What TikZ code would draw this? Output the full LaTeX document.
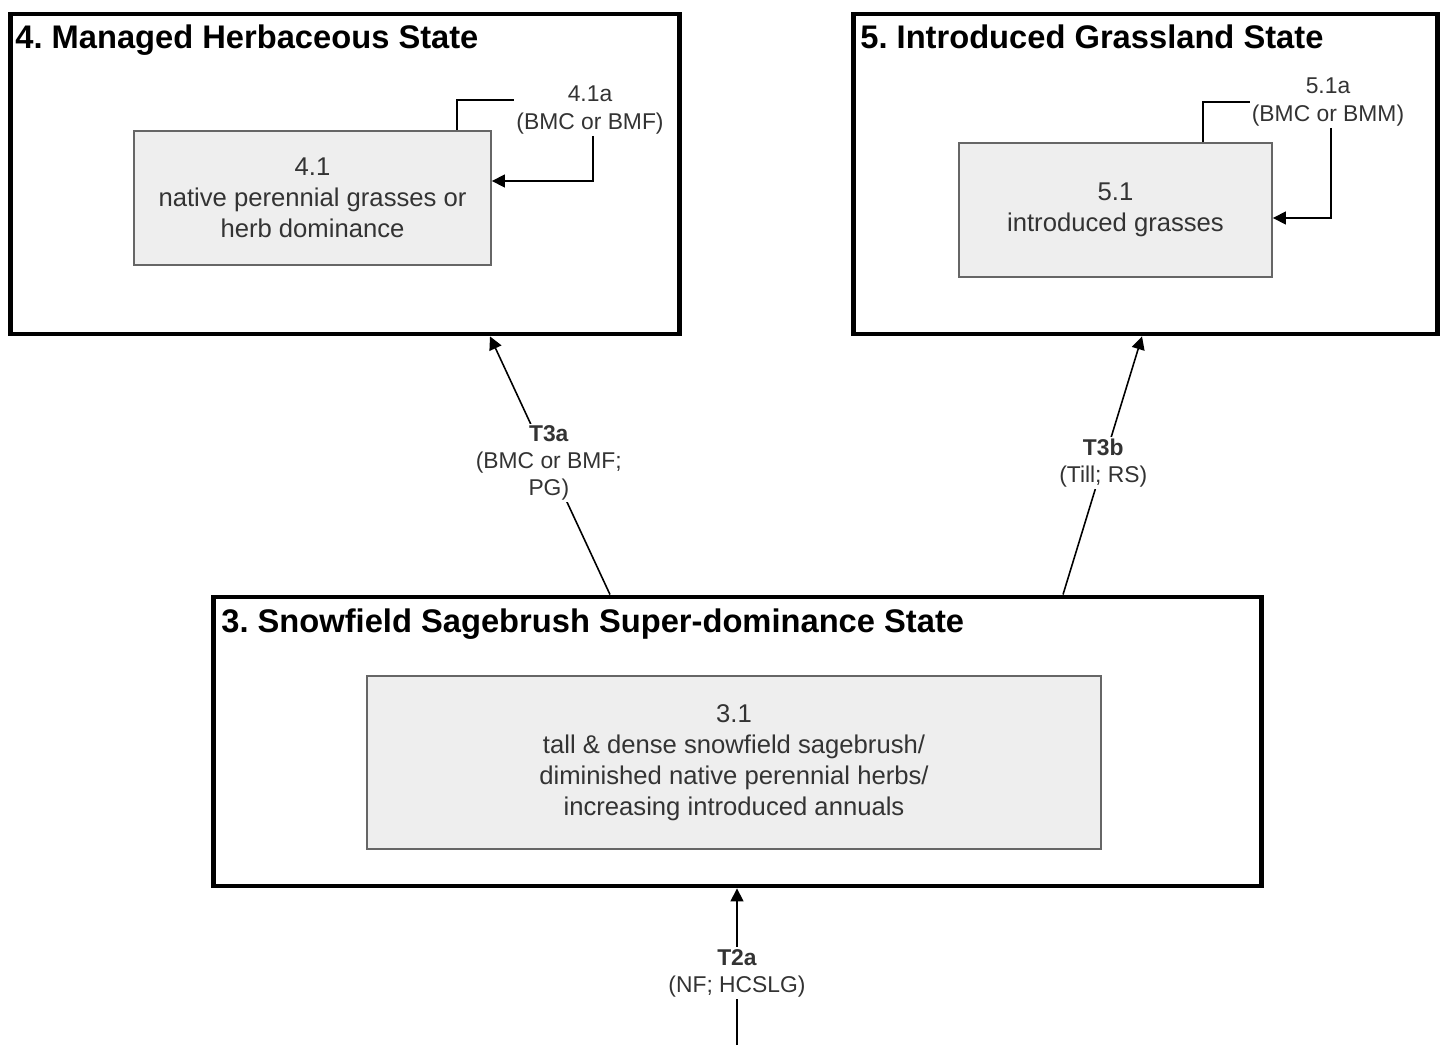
\documentclass[tikz,border=0pt]{standalone}
\usepackage{fontspec}
\setmainfont{Liberation Sans}
\usetikzlibrary{arrows.meta}
\definecolor{boxgray}{HTML}{EEEEEE}
\definecolor{textgray}{HTML}{333333}
\frenchspacing
\begin{document}
\begin{tikzpicture}[x=0.02cm, y=-0.02cm,
  state/.style={draw, line width=2.8pt, inner sep=0pt},
  title/.style={font=\fontsize{18.6}{21}\selectfont\bfseries, inner sep=0pt, anchor=base west},
  community/.style={draw=black!60, line width=1.1pt, fill=boxgray, text=textgray, align=center, font=\fontsize{14.6}{17.6}\selectfont},
  pathway/.style={text=textgray, align=center, inner sep=1pt, font=\fontsize{13}{15.4}\selectfont},
  trans/.style={pathway, fill=white},
  arr/.style={line width=0.9pt, -{Triangle[length=0.26cm,width=0.26cm]}}]
\useasboundingbox (0,0) rectangle (1444,1045);
% states
\node[state, minimum width=13.4cm, minimum height=6.4cm] (s4) at (345,174) {};
\node[state, minimum width=11.7cm, minimum height=6.4cm] (s5) at (1145.5,174) {};
\node[state, minimum width=20.98cm, minimum height=5.78cm] (s3) at (737.5,741.5) {};
\node[title] (h4) at (15,48) {4. Managed Herbaceous State};
\node[title] (h5) at (860,48) {5. Introduced Grassland State};
\node[title] (h3) at (221,632) {3. Snowfield Sagebrush Super-dominance State};
% communities
\node[community, minimum width=7.14cm, minimum height=2.68cm] (c41) at (312.5,198) {4.1\\native perennial grasses or\\herb dominance};
\node[community, minimum width=6.26cm, minimum height=2.68cm] (c51) at (1115.5,210) {5.1\\introduced grasses};
\node[community, minimum width=14.68cm, minimum height=3.46cm] (c31) at (734,762.5) {3.1\\tall \& dense snowfield sagebrush/\\diminished native perennial herbs/\\increasing introduced annuals};
% pathways
\node[pathway] (p41) at (590,110) {4.1a\\(BMC or BMF)};
\draw[line width=0.9pt] (c41.north -| 457,0) |- ([yshift=0.2cm]p41.west);
\draw[arr] (p41.south -| 593,0) |- (c41.east |- 0,181);
\node[pathway] (p51) at (1328,102) {5.1a\\(BMC or BMM)};
\draw[line width=0.9pt] (c51.north -| 1203,0) |- (p51.west);
\draw[arr] (p51.south -| 1331,0) |- (c51.east |- 0,218);
% transitions
\draw[arr] (s3.north -| 610,0) -- (s4.south -| 490,0) node[trans, pos=0.51] {\textbf{T3a}\\(BMC or BMF;\\PG)};
\draw[arr] (s3.north -| 1063,0) -- (s5.south -| 1142,0) node[trans, pos=0.51] {\textbf{T3b}\\(Till; RS)};
\coordinate (t2) at (737,1045);
\draw[arr] (t2) -- (s3.south -| 737,0) node[trans, pos=0.46] {\textbf{T2a}\\(NF; HCSLG)};
\end{tikzpicture}
\end{document}
